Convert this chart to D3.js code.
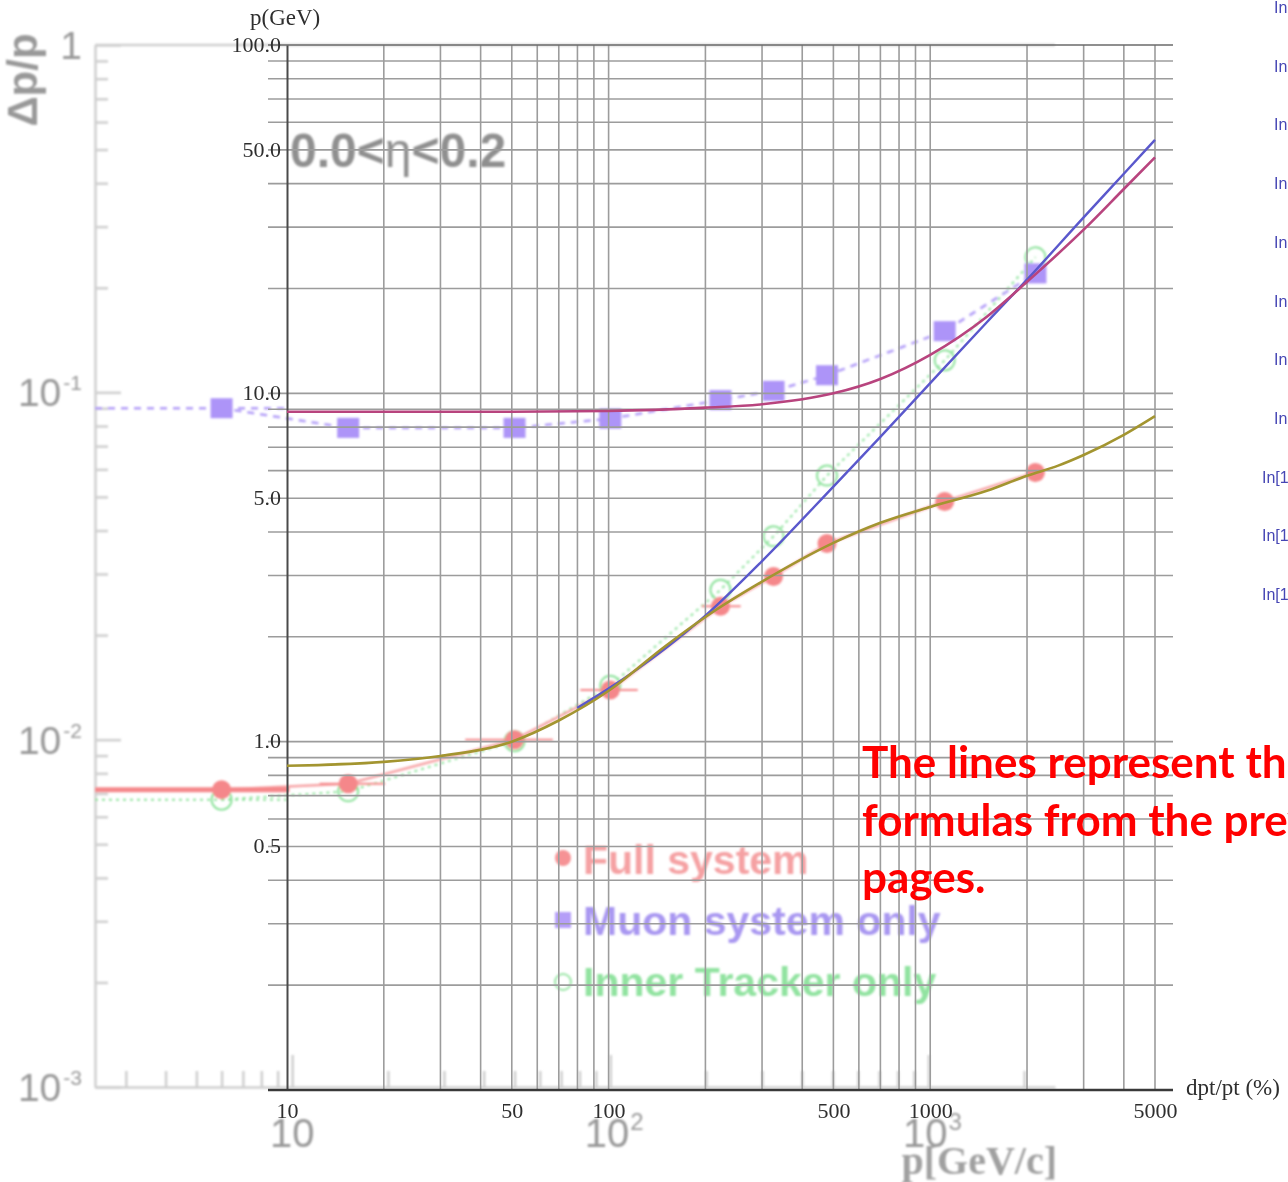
<!DOCTYPE html>
<html>
<head>
<meta charset="utf-8">
<script src="https://cdn.jsdelivr.net/npm/d3@7"></script>
<style>
  html, body { margin: 0; padding: 0; background: #fff; overflow: hidden; }
  svg { display: block; }
</style>
</head>
<body>
<svg id="chart" width="1288" height="1182"></svg>
<script>
// ---------- measured resolution (Δp/p, fraction) vs p [GeV/c] ----------
const measP        = [6.0, 15, 50, 100, 222, 326, 480, 1125, 2170];
const fullRes      = [0.00718, 0.00747, 0.0100, 0.0139, 0.0242, 0.0295, 0.0367, 0.0485, 0.0588];
const muonRes      = [0.090, 0.079, 0.079, 0.084, 0.095, 0.101, 0.112, 0.150, 0.220];
const trackerRes   = [0.00672, 0.0071, 0.0099, 0.0143, 0.0270, 0.0385, 0.0576, 0.1236, 0.245];
// horizontal bin widths of the full-system points (only the first few are drawn)
const fullErrLo    = [2.4, 12.2, 35, 80.5, 194, null, null, null, null];
const fullErrHi    = [9.8, 19.6, 66, 122, 257, null, null, null, null];
const measPMin     = 2.4;

// ---------- parametrised resolutions (dpt/pt in %, vs p in GeV) ----------
const muonFormP    = [10, 50, 100, 200, 300, 500, 700, 1000, 1500, 2000, 3000, 4000, 5000];
const muonFormRes  = [8.85, 8.85, 8.9, 9.1, 9.3, 10.0, 11.0, 12.9, 16.6, 20.9, 29.5, 38.6, 47.6];
const trackFormP   = [80, 100, 150, 200, 300, 500, 700, 1000, 1500, 2000, 3000, 4000, 5000];
const trackFormRes = [1.25, 1.42, 1.85, 2.3, 3.3, 5.4, 7.5, 10.7, 16.0, 21.2, 32.0, 42.7, 53.4];
const fullFormP    = [10, 20, 30, 50, 70, 100, 150, 200, 300, 500, 700, 1000, 1500, 2000, 2500, 3000, 4000, 5000];
const fullFormRes  = [0.853, 0.875, 0.91, 1.0, 1.15, 1.4, 1.88, 2.28, 2.88, 3.72, 4.25, 4.72, 5.25, 5.8, 6.2, 6.65, 7.6, 8.6];

// ---------- tick labels ----------
const ovXLabels   = [10, 50, 100, 500, 1000, 5000];
const ovYLabels   = [100, 50, 10, 5, 1, 0.5];
const bgYLabVals  = [1, 0.1, 0.01, 0.001];
const bgYLabBase  = ["1", "10", "10", "10"];
const bgYLabSup   = ["", "-1", "-2", "-3"];
const bgXLabVals  = [10, 100, 1000];
const bgXLabBase  = ["10", "10", "10"];
const bgXLabSup   = ["", "2", "3"];
const legendNames = ["Full system", "Muon system only", "Inner Tracker only"];
const sessionLines = ["In[2]:=", "In[3]:=", "In[4]:=", "In[5]:=", "In[6]:=", "In[7]:=", "In[8]:=", "In[9]:=",
                      "In[10]:=", "In[11]:=", "In[12]:="];
const noteLines = ["The lines represent the", "formulas from the previous", "pages."];

// ---------- drawing ----------
const svg = d3.select("#chart");
const defs = svg.append("defs");
defs.append("filter").attr("id", "soft").attr("x", "-5%").attr("y", "-5%").attr("width", "110%").attr("height", "110%")
  .append("feGaussianBlur").attr("stdDeviation", 0.9);
defs.append("filter").attr("id", "softer")
  .append("feGaussianBlur").attr("stdDeviation", 1.6);

// faded underlying resolution plot
const bgX = d3.scaleLog().domain([measPMin, 2500]).range([95, 1055]);
const bgY = d3.scaleLog().domain([0.001, 1]).range([1087, 45]);
const bg = svg.append("g").attr("filter", "url(#soft)");

const frameCol = "#cfcfcf";
bg.append("line").attr("x1", bgX.range()[0]).attr("x2", bgX.range()[1]).attr("y1", bgY(1)).attr("y2", bgY(1))
  .attr("stroke", frameCol).attr("stroke-width", 2.5);
bg.append("line").attr("x1", bgX.range()[1]).attr("x2", bgX.range()[1]).attr("y1", bgY(1)).attr("y2", bgY(0.001))
  .attr("stroke", "#d8d8d8").attr("stroke-width", 5).attr("filter", "url(#softer)");

const isDecade = v => Math.abs(Math.log10(v) - Math.round(Math.log10(v))) < 1e-9;
const bgYTicks = [];
for (let e = -3; e < 0; e++) for (let k = 1; k <= 9; k++) bgYTicks.push(k * Math.pow(10, e));
bgYTicks.push(1);
const bgXTicks = [];
for (let e = 0; e <= 3; e++) for (let k = 1; k <= 9; k++) {
  const v = k * Math.pow(10, e);
  if (v >= measPMin && v <= 2500) bgXTicks.push(v);
}

const yAxBg = bg.append("g").attr("transform", `translate(${bgX.range()[0]},0)`)
  .call(d3.axisRight(bgY).tickValues(bgYTicks).tickFormat("").tickSizeOuter(0));
yAxBg.selectAll(".tick line").attr("x2", d => isDecade(d) ? 26 : 13);
yAxBg.selectAll("path, line").attr("stroke", frameCol).attr("stroke-width", 2.5);

const xAxBg = bg.append("g").attr("transform", `translate(0,${bgY.range()[0]})`)
  .call(d3.axisTop(bgX).tickValues(bgXTicks).tickFormat("").tickSizeOuter(0));
xAxBg.selectAll(".tick line").attr("y2", d => isDecade(d) ? -32 : -16);
xAxBg.selectAll("path, line").attr("stroke", frameCol).attr("stroke-width", 2.5);

const bgText = "#999999";
const yl = bg.append("g").selectAll("text").data(bgYLabVals).join("text")
  .attr("x", 82).attr("y", d => bgY(d) + 14)
  .attr("text-anchor", "end")
  .attr("font-family", "Liberation Sans, Arial, sans-serif").attr("font-size", 39)
  .attr("fill", bgText);
yl.append("tspan").text((d, i) => bgYLabBase[i]);
yl.append("tspan").attr("font-size", 21).attr("dy", -16).attr("dx", 2).text((d, i) => bgYLabSup[i]);

const xl = bg.append("g").selectAll("text").data(bgXLabVals).join("text")
  .attr("x", d => bgX(d) + (bgXLabSup[bgXLabVals.indexOf(d)] ? 4 : 0)).attr("y", 1147)
  .attr("text-anchor", "middle")
  .attr("font-family", "Liberation Sans, Arial, sans-serif").attr("font-size", 40)
  .attr("fill", bgText);
xl.append("tspan").text((d, i) => bgXLabBase[i]);
xl.append("tspan").attr("font-size", 24).attr("dy", -17).attr("dx", 1).text((d, i) => bgXLabSup[i]);

bg.append("text").attr("transform", "translate(37,80) rotate(-90)").attr("text-anchor", "middle")
  .attr("font-family", "Liberation Sans, Arial, sans-serif").attr("font-weight", "bold").attr("font-size", 42)
  .attr("fill", bgText).text("Δp/p");
bg.append("text").attr("x", 1057).attr("y", 1174).attr("text-anchor", "end")
  .attr("font-family", "Liberation Serif, Times New Roman, serif").attr("font-weight", "bold").attr("font-size", 40)
  .attr("fill", "#a0a0a0").text("p[GeV/c]");
const etaT = bg.append("text").attr("x", 290).attr("y", 167)
  .attr("font-family", "Liberation Sans, Arial, sans-serif").attr("font-weight", "bold").attr("font-size", 48)
  .attr("fill", "#8f8f8f");
etaT.append("tspan").text("0.0<");
etaT.append("tspan").attr("font-weight", "normal").text("η");
etaT.append("tspan").text("<0.2");

// series styling
const colFull = "#f5878a", colMuon = "#ad94f8", colTrk = "#8ee39c";
const lineBg = d3.line().x(d => bgX(d[0])).y(d => bgY(d[1]));
const zipP = arr => measP.map((p, i) => [p, arr[i]]);

// tracker only: dotted
bg.append("path").datum(zipP(trackerRes)).attr("d", lineBg).attr("fill", "none")
  .attr("stroke", colTrk).attr("stroke-width", 2).attr("stroke-dasharray", "3,4");
bg.append("line").attr("x1", bgX(measPMin)).attr("x2", bgX(fullErrHi[0])).attr("y1", bgY(trackerRes[0])).attr("y2", bgY(trackerRes[0]))
  .attr("stroke", colTrk).attr("stroke-width", 2).attr("stroke-dasharray", "3,4");
bg.append("g").selectAll("circle").data(zipP(trackerRes)).join("circle")
  .attr("cx", d => bgX(d[0])).attr("cy", d => bgY(d[1])).attr("r", 10)
  .attr("fill", "none").attr("stroke", colTrk).attr("stroke-width", 2);

// muon only: dashed
bg.append("path").datum(zipP(muonRes)).attr("d", lineBg).attr("fill", "none")
  .attr("stroke", "#b39ef8").attr("stroke-width", 2.5).attr("stroke-dasharray", "7,6");
bg.append("line").attr("x1", bgX(measPMin)).attr("x2", bgX(fullErrHi[0])).attr("y1", bgY(muonRes[0])).attr("y2", bgY(muonRes[0]))
  .attr("stroke", "#b39ef8").attr("stroke-width", 2.5).attr("stroke-dasharray", "7,6");
bg.append("g").selectAll("rect").data(zipP(muonRes)).join("rect")
  .attr("x", d => bgX(d[0]) - 11).attr("y", d => bgY(d[1]) - 10).attr("width", 22).attr("height", 20)
  .attr("fill", colMuon);

// full system: solid with horizontal bars
bg.append("path").datum(zipP(fullRes)).attr("d", lineBg).attr("fill", "none")
  .attr("stroke", "#f7a3a5").attr("stroke-width", 2.5);
bg.append("g").selectAll("line").data(measP.map((p, i) => i).filter(i => fullErrLo[i] !== null)).join("line")
  .attr("x1", i => bgX(fullErrLo[i])).attr("x2", i => bgX(fullErrHi[i]))
  .attr("y1", i => bgY(fullRes[i])).attr("y2", i => bgY(fullRes[i]))
  .attr("stroke", colFull).attr("stroke-width", i => i === 0 ? 5 : 2);
bg.append("g").selectAll("circle").data(zipP(fullRes)).join("circle")
  .attr("cx", d => bgX(d[0])).attr("cy", d => bgY(d[1])).attr("r", 9.5)
  .attr("fill", colFull);

// legend
const leg = bg.append("g").attr("transform", "translate(563,858)").attr("opacity", 0.9);
const legCols = ["#f4979a", "#a08cf0", "#86e096"];
leg.append("circle").attr("cx", 0).attr("cy", 0).attr("r", 8).attr("fill", colFull);
leg.append("rect").attr("x", -8).attr("y", 54).attr("width", 16).attr("height", 16).attr("fill", colMuon);
leg.append("circle").attr("cx", 0).attr("cy", 124).attr("r", 8).attr("fill", "none").attr("stroke", colTrk).attr("stroke-width", 2);
leg.selectAll("text").data(legendNames).join("text")
  .attr("x", 20).attr("y", (d, i) => 16 + i * 61)
  .attr("font-family", "Liberation Sans, Arial, sans-serif").attr("font-weight", "bold").attr("font-size", 41)
  .attr("fill", (d, i) => legCols[i]).text(d => d);

// ---------- overlaid log-log grid with parametrised curves ----------
const ovX = d3.scaleLog().domain([10, 5000]).range([287, 1155]);
const ovY = d3.scaleLog().domain([0.1, 100]).range([1090, 45]);
const ov = svg.append("g");

const gridXv = [], gridYv = [];
for (let e = 1; e <= 3; e++) for (let k = 1; k <= 9; k++) {
  const v = k * Math.pow(10, e);
  if (v > 10 && v <= 5000) gridXv.push(v);
}
for (let e = -1; e <= 1; e++) for (let k = 1; k <= 9; k++) {
  const v = k * Math.pow(10, e);
  if (v > 0.1 + 1e-9) gridYv.push(v);
}
gridYv.push(100);

const gridCol = "#9c9c9c";
ov.append("g").selectAll("line").data(gridXv).join("line")
  .attr("x1", d => ovX(d)).attr("x2", d => ovX(d))
  .attr("y1", ovY(100)).attr("y2", ovY(0.1))
  .attr("stroke", gridCol).attr("stroke-width", 1.6);
ov.append("g").selectAll("line").data(gridYv).join("line")
  .attr("x1", ovX(10) - 19).attr("x2", ovX(5000) + 18)
  .attr("y1", d => ovY(d)).attr("y2", d => ovY(d))
  .attr("stroke", d => d === 100 ? "#6a6a6a" : gridCol).attr("stroke-width", 1.6);

// axis lines and labels
const tickFont = "Liberation Serif, Times New Roman, serif";
const yAx = ov.append("g").attr("transform", `translate(${ovX(10)},0)`)
  .call(d3.axisLeft(ovY).tickValues(ovYLabels).tickFormat(d3.format(".1f")).tickSize(0).tickPadding(6).tickSizeOuter(0));
yAx.select(".domain").attr("stroke", "#4a4a4a").attr("stroke-width", 2);
yAx.selectAll("text").attr("font-family", tickFont).attr("font-size", 22).attr("fill", "#2e2e2e").attr("dy", "0.28em");

ov.append("line").attr("x1", ovX(10) - 19).attr("x2", ovX(5000) + 18).attr("y1", ovY(0.1)).attr("y2", ovY(0.1))
  .attr("stroke", "#3a3a3a").attr("stroke-width", 2.5);
const xAx = ov.append("g").attr("transform", `translate(0,${ovY(0.1)})`)
  .call(d3.axisBottom(ovX).tickValues(ovXLabels).tickFormat(d3.format("d")).tickSize(0).tickPadding(12));
xAx.select(".domain").remove();
xAx.selectAll("text").attr("font-family", tickFont).attr("font-size", 22).attr("fill", "#2e2e2e");

ov.append("text").attr("x", 250).attr("y", 25).attr("font-family", tickFont).attr("font-size", 23)
  .attr("fill", "#2e2e2e").text("p(GeV)");
ov.append("text").attr("x", 1186).attr("y", 1095).attr("font-family", tickFont).attr("font-size", 23)
  .attr("fill", "#2e2e2e").text("dpt/pt (%)");

// curves
const lineOv = d3.line().x(d => ovX(d[0])).y(d => ovY(d[1])).curve(d3.curveMonotoneX);
const pairs = (ps, vs) => ps.map((p, i) => [p, vs[i]]);
ov.append("path").datum(pairs(trackFormP, trackFormRes)).attr("d", lineOv).attr("fill", "none")
  .attr("stroke", "#5a58cc").attr("stroke-width", 2.4);
ov.append("path").datum(pairs(fullFormP, fullFormRes)).attr("d", lineOv).attr("fill", "none")
  .attr("stroke", "#a39530").attr("stroke-width", 2.6);
ov.append("path").datum(pairs(muonFormP, muonFormRes)).attr("d", lineOv).attr("fill", "none")
  .attr("stroke", "#b8447e").attr("stroke-width", 2.6);

// notes
svg.append("g").selectAll("text").data(noteLines).join("text")
  .attr("x", 862).attr("y", (d, i) => 778 + i * 57.5)
  .attr("font-family", "Lato, Open Sans, sans-serif").attr("font-weight", "bold").attr("font-size", 44)
  .attr("fill", "#ff0000").text(d => d);

svg.append("g").selectAll("text").data(sessionLines).join("text")
  .attr("x", (d) => d.length > 7 ? 1262 : 1274).attr("y", (d, i) => 13 + i * 58.7)
  .attr("font-family", "Liberation Sans, Arial, sans-serif").attr("font-size", 16)
  .attr("fill", "#4646b4").text(d => d);
</script>
</body>
</html>
